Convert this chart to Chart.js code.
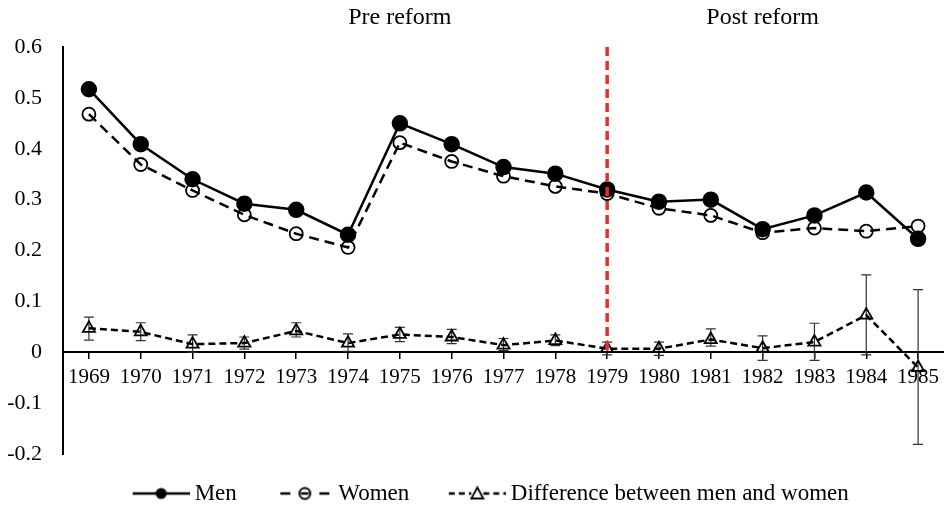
<!DOCTYPE html>
<html>
<head>
<meta charset="utf-8">
<script src="https://cdn.jsdelivr.net/npm/chart.js@4.4.1/dist/chart.umd.min.js"></script>
<style>
  body { margin: 0; background: #fff; }
  #wrap { width: 944px; height: 510px; }
</style>
</head>
<body>
<div id="wrap"><canvas id="chart" width="944" height="510"></canvas></div>
<script>
const years = ["1969","1970","1971","1972","1973","1974","1975","1976","1977","1978","1979","1980","1981","1982","1983","1984","1985"];
const men = [0.517,0.409,0.340,0.292,0.280,0.231,0.450,0.409,0.364,0.351,0.320,0.296,0.300,0.242,0.269,0.314,0.223];
const women = [0.468,0.369,0.318,0.270,0.233,0.206,0.412,0.375,0.346,0.326,0.312,0.283,0.269,0.235,0.244,0.238,0.248];
const diff = [0.047,0.040,0.016,0.018,0.042,0.018,0.035,0.030,0.014,0.023,0.007,0.007,0.025,0.008,0.020,0.073,-0.030];
const diffHigh = [0.069,0.058,0.034,0.030,0.058,0.036,0.049,0.045,0.027,0.034,0.020,0.020,0.046,0.032,0.057,0.152,0.123];
const diffLow = [0.024,0.023,0.000,0.006,0.030,0.002,0.021,0.017,0.003,0.013,-0.005,-0.006,0.012,-0.016,-0.016,-0.005,-0.181];
const reformYear = "1979";
const periodLabels = [["Pre reform", "1975"], ["Post reform", "1982"]];

const FONT = "'Liberation Serif', 'Times New Roman', serif";

// little legend pictures: line + marker, drawn on the right part of the canvas
function legendSample(kind) {
  const c = document.createElement("canvas");
  c.width = 96; c.height = 24;
  const g = c.getContext("2d");
  const x0 = 39, x1 = 96, cx = 67.5, cy = 12;
  g.strokeStyle = "#000"; g.lineWidth = 2.5;
  if (kind === "men") {
    g.beginPath(); g.moveTo(x0, cy); g.lineTo(x1, cy); g.stroke();
    g.fillStyle = "#000";
    g.beginPath(); g.arc(cx, cy, 5.5, 0, Math.PI * 2); g.fill();
  } else if (kind === "women") {
    g.beginPath(); g.moveTo(x0 + 4, cy); g.lineTo(x0 + 14, cy); g.stroke();
    g.beginPath(); g.moveTo(cx - 4, cy); g.lineTo(cx + 4, cy); g.stroke();
    g.beginPath(); g.moveTo(x1 - 14, cy); g.lineTo(x1 - 4, cy); g.stroke();
    g.lineWidth = 1.8;
    g.beginPath(); g.arc(cx, cy, 5.5, 0, Math.PI * 2); g.stroke();
  } else {
    g.setLineDash([6, 4]);
    g.beginPath(); g.moveTo(x0, cy); g.lineTo(cx - 6, cy); g.stroke();
    g.beginPath(); g.moveTo(cx + 6, cy); g.lineTo(x1, cy); g.stroke();
    g.setLineDash([]); g.lineWidth = 1.8;
    g.beginPath(); g.moveTo(cx, cy - 6); g.lineTo(cx + 6, cy + 5); g.lineTo(cx - 6, cy + 5); g.closePath(); g.stroke();
  }
  return c;
}
const samples = { Men: legendSample("men"), Women: legendSample("women"), "Difference between men and women": legendSample("diff") };

const errorBars = {
  id: "errorBars",
  beforeDatasetsDraw(chart) {
    const { ctx, scales: { x, y } } = chart;
    ctx.save();
    ctx.strokeStyle = "#333"; ctx.lineWidth = 1.2;
    years.forEach((yr, i) => {
      const px = x.getPixelForValue(i);
      const top = y.getPixelForValue(diffHigh[i]);
      const bot = y.getPixelForValue(diffLow[i]);
      ctx.beginPath();
      ctx.moveTo(px, top); ctx.lineTo(px, bot);
      ctx.moveTo(px - 5, top); ctx.lineTo(px + 5, top);
      ctx.moveTo(px - 5, bot); ctx.lineTo(px + 5, bot);
      ctx.stroke();
    });
    ctx.restore();
  }
};

const periodText = {
  id: "periodText",
  afterDraw(chart) {
    const { ctx, scales: { x } } = chart;
    ctx.save();
    ctx.font = "24px " + FONT;
    ctx.fillStyle = "#000";
    ctx.textAlign = "center";
    ctx.textBaseline = "middle";
    periodLabels.forEach(([txt, yr]) => {
      ctx.fillText(txt, x.getPixelForValue(years.indexOf(yr)), 18);
    });
    ctx.restore();
  }
};

// the x axes should not reserve side room for the last label
const noSidePad = (s) => { s.paddingLeft = 0; s.paddingRight = 0; };

new Chart(document.getElementById("chart"), {
  type: "line",
  data: {
    labels: years,
    datasets: [
      {
        label: "reform",
        data: [{ x: reformYear, y: 0.6 }, { x: reformYear, y: 0 }],
        borderColor: "#ee2a2e",
        borderWidth: 3.5,
        borderDash: [9, 5],
        pointRadius: 0,
        order: 0
      },
      {
        label: "Men",
        data: men,
        borderColor: "#000",
        borderWidth: 2.5,
        pointStyle: "circle",
        pointRadius: 7,
        pointBackgroundColor: "#000",
        pointBorderColor: "#000",
        order: 1
      },
      {
        label: "Women",
        data: women,
        borderColor: "#000",
        borderWidth: 2.5,
        borderDash: [10, 6],
        pointStyle: "circle",
        pointRadius: 6.5,
        pointBorderWidth: 1.8,
        pointBackgroundColor: "rgba(255,255,255,0)",
        pointBorderColor: "#000",
        order: 2
      },
      {
        label: "Difference between men and women",
        data: diff,
        borderColor: "#000",
        borderWidth: 2.5,
        borderDash: [7, 4],
        pointStyle: "triangle",
        pointRadius: 7,
        pointBorderWidth: 1.8,
        pointBackgroundColor: "rgba(255,255,255,0)",
        pointBorderColor: "#000",
        order: 3
      }
    ]
  },
  options: {
    responsive: false,
    animation: false,
    layout: { autoPadding: false, padding: { top: 47, left: 0, right: -5, bottom: -5 } },
    plugins: {
      tooltip: { enabled: false },
      legend: {
        position: "bottom",
        labels: {
          usePointStyle: true,
          pointStyleWidth: 83,
          padding: 7,
          color: "#000",
          font: { family: FONT, size: 23 },
          filter: (item) => item.text !== "reform",
          generateLabels(chart) {
            return chart.data.datasets.map((ds, i) => ({
              text: ds.label,
              datasetIndex: i,
              pointStyle: samples[ds.label] || "line",
              fillStyle: "#000",
              strokeStyle: "#000",
              lineWidth: 0,
              fontColor: "#000",
              hidden: false
            }));
          }
        }
      }
    },
    scales: {
      x: {
        type: "category",
        offset: true,
        position: { y: 0 },
        border: { color: "#000", width: 2 },
        grid: { display: true, drawOnChartArea: false, drawTicks: true, tickLength: 6, color: "#000", lineWidth: 1.5 },
        ticks: { color: "#000", font: { family: FONT, size: 21 }, padding: 7, autoSkip: false, maxRotation: 0 },
        afterFit: noSidePad
      },
      xGap: {
        type: "category",
        position: "bottom",
        offset: true,
        display: true,
        border: { display: false },
        grid: { display: false, drawTicks: false },
        ticks: { display: false },
        afterFit(s) { s.height = 21; noSidePad(s); }
      },
      y: {
        min: -0.2,
        max: 0.6,
        border: { color: "#000", width: 2 },
        grid: { display: false, drawTicks: false },
        ticks: {
          stepSize: 0.1,
          color: "#000",
          padding: 21,
          font: { family: FONT, size: 22 },
          callback: (v) => Math.abs(v) < 1e-9 ? "0" : v.toFixed(1)
        },
        afterFit(s) { s.width = 63; }
      }
    }
  },
  plugins: [errorBars, periodText]
});
</script>
</body>
</html>
